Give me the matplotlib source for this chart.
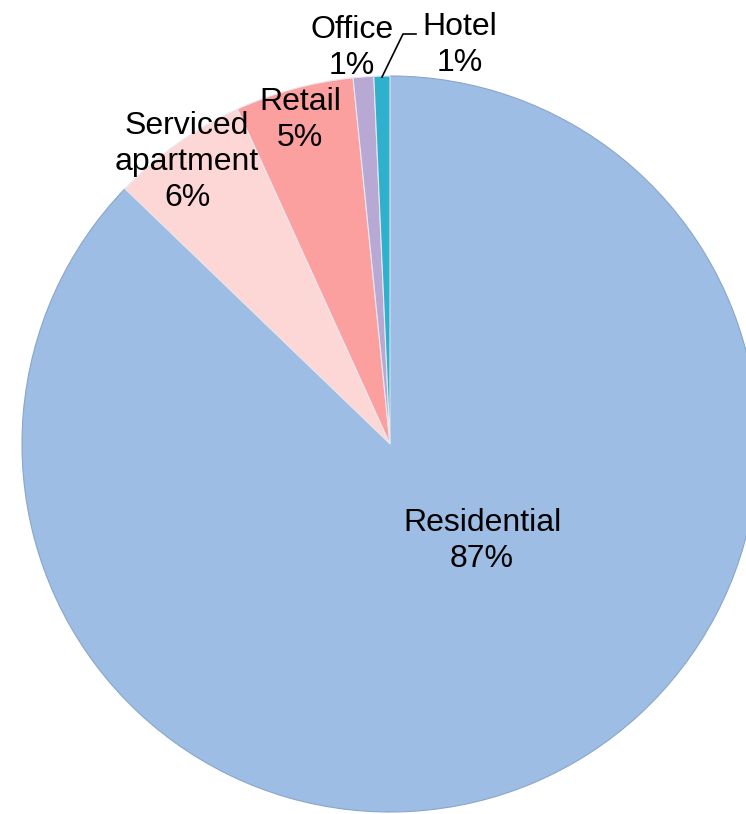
import matplotlib
matplotlib.use("Agg")
import matplotlib.pyplot as plt

categories = ["Residential", "Serviced\napartment", "Retail", "Office", "Hotel"]
values = [87.2, 6.0, 5.2, 0.9, 0.7]
pct_labels = ["87%", "6%", "5%", "1%", "1%"]
colors = ["#9dbde4", "#fdd6d6", "#fc9f9f", "#b8a8d4", "#2fb0cc"]

plt.rcParams['font.family'] = ['Liberation Sans', 'DejaVu Sans']

W, H = 746, 814
CX, CY, R = 390, 444, 368

fig = plt.figure(figsize=(W / 100, H / 100), dpi=100)
ax = fig.add_axes([0, 0, 1, 1])

wedges, _ = ax.pie(values, colors=colors, startangle=90, counterclock=False,
                   radius=1.0, center=(0, 0), frame=True,
                   wedgeprops=dict(edgecolor="#8aa6c8", linewidth=0.8))
for w in wedges[1:]:
    w.set_edgecolor("#e8e8f0")
ax.set_xlim(-CX / R, (W - CX) / R)
ax.set_ylim(-(H - CY) / R, CY / R)
ax.set_aspect('equal')
ax.axis('off')

def d(px, py):
    return ((px - CX) / R, (CY - py) / R)

label_pos = [(482, 541), (187, 162), (300, 120), (352, 48), (460, 45)]
for cat, pct, (px, py) in zip(categories, pct_labels, label_pos):
    x, y = d(px, py)
    ax.text(x, y, f"{cat}\n{pct}", ha='center', va='center', fontsize=23,
            linespacing=1.26, color='black')

# leader line for Hotel
pts = [d(382, 77), d(403, 34), d(416, 34)]
ax.plot([p[0] for p in pts], [p[1] for p in pts], color='black', lw=1.2)

fig.savefig("out.png", dpi=100)
